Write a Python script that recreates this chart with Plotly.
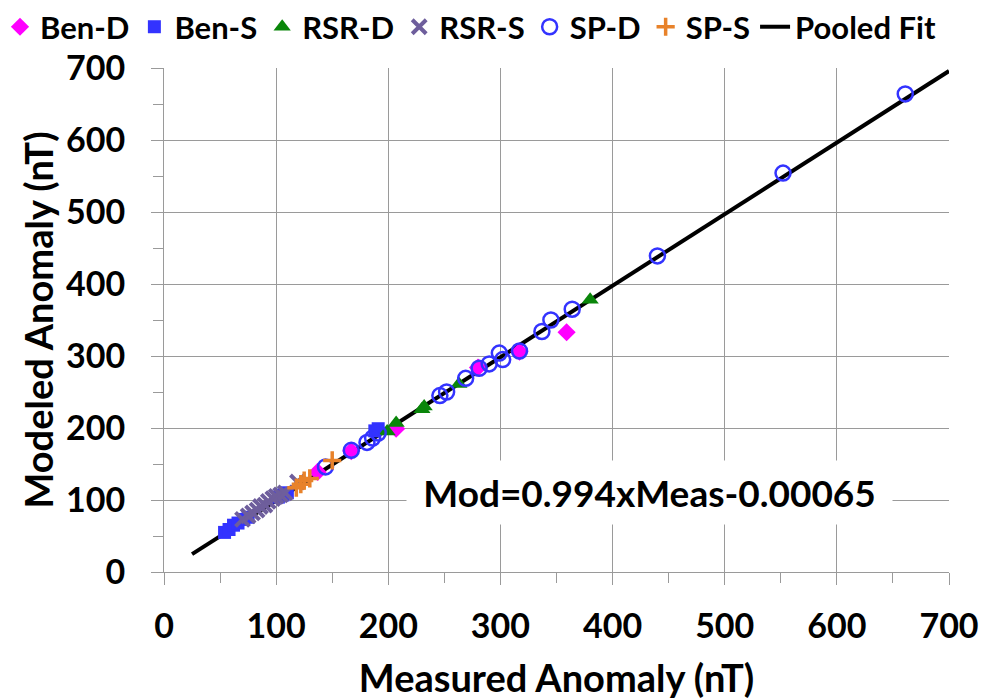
import plotly.graph_objects as go

# ---------------- data ----------------
ben_d_meas = [137, 167, 207, 280, 317, 359]
ben_d_mod = [139, 168, 199, 284, 306, 333]

ben_s_meas = [54, 58, 62, 66, 71, 75, 102, 106, 110, 188, 191]
ben_s_mod = [55, 59, 65, 68, 73, 76, 104, 107, 110, 196, 199]

rsr_d_meas = [199, 207, 230, 232, 263, 380]
rsr_d_mod = [195, 207, 226, 230, 261, 378]

rsr_s_meas = [70, 75, 79, 83, 86, 90, 93, 97, 100, 104, 108, 119]
rsr_s_mod = [73, 78, 82, 86, 91, 93, 98, 102, 105, 107, 110, 125]

sp_d_meas = [144, 167, 181, 186, 191, 246, 252, 269, 281, 290, 299, 302, 317, 337, 345, 364, 440, 552, 661]
sp_d_mod = [146, 169, 180, 186, 193, 245, 250, 269, 283, 289, 304, 295, 307, 334, 350, 365, 439, 554, 664]

sp_s_meas = [118, 122, 125, 130, 150]
sp_s_mod = [117, 122, 127, 130, 155]

fit_meas = [25, 700]
fit_mod = [24.8, 695.8]

x_ticks = [0, 100, 200, 300, 400, 500, 600, 700]
y_ticks = [0, 100, 200, 300, 400, 500, 600, 700]

equation_text = "Mod=0.994xMeas-0.00065"

# ---------------- figure ----------------
FONT = "Lato"
BLUE = "#3333ff"
MAGENTA = "#ff00ff"
GREEN = "#0a860a"
PURPLE = "#6e5e9c"
ORANGE = "#e8822a"
GRID = "#9a9a9a"

fig = go.Figure()

fig.add_trace(go.Scatter(
    x=fit_meas, y=fit_mod, mode="lines", name="Pooled Fit",
    line=dict(color="black", width=4), legendrank=7))

fig.add_trace(go.Scatter(
    x=ben_d_meas, y=ben_d_mod, mode="markers", name="Ben-D",
    marker=dict(symbol="diamond", size=14, color=MAGENTA, line=dict(width=0)),
    legendrank=1))
fig.add_trace(go.Scatter(
    x=ben_s_meas, y=ben_s_mod, mode="markers", name="Ben-S",
    marker=dict(symbol="square", size=13, color=BLUE, line=dict(width=0)),
    legendrank=2))
fig.add_trace(go.Scatter(
    x=rsr_d_meas, y=rsr_d_mod, mode="markers", name="RSR-D",
    marker=dict(symbol="triangle-up", size=15, color=GREEN, line=dict(width=0)),
    legendrank=3))
fig.add_trace(go.Scatter(
    x=rsr_s_meas, y=rsr_s_mod, mode="markers", name="RSR-S",
    marker=dict(symbol="x-thin", size=14, color=PURPLE, line=dict(width=4, color=PURPLE)),
    legendrank=4))
fig.add_trace(go.Scatter(
    x=sp_d_meas, y=sp_d_mod, mode="markers", name="SP-D",
    marker=dict(symbol="circle-open", size=15, color=BLUE, line=dict(width=2.5, color=BLUE)),
    legendrank=5))
fig.add_trace(go.Scatter(
    x=sp_s_meas, y=sp_s_mod, mode="markers", name="SP-S",
    marker=dict(symbol="cross-thin", size=13, color=ORANGE, line=dict(width=3.5, color=ORANGE)),
    legendrank=6))

fig.add_annotation(
    x=432.6, y=110.7, xref="x", yref="y", text=equation_text, showarrow=False,
    xanchor="center", yanchor="middle", bgcolor="white", width=483, height=61,
    font=dict(family=FONT, size=37, color="black", weight="bold"))

axis_common = dict(
    range=[0, 700], dtick=100, tick0=0,
    showgrid=True, gridcolor=GRID, gridwidth=1,
    showline=True, linecolor=GRID, linewidth=1,
    ticks="outside", ticklen=12, tickcolor=GRID, tickwidth=1,
    minor=dict(dtick=50, ticks="outside", ticklen=10, tickcolor=GRID, showgrid=False),
    tickfont=dict(family=FONT, size=34, color="black", weight="bold"),
    zeroline=False, fixedrange=True,
)

fig.update_layout(
    width=1000, height=700,
    margin=dict(l=164, r=51, t=68, b=128, autoexpand=False),
    paper_bgcolor="white", plot_bgcolor="white",
    xaxis=dict(axis_common, tickvals=x_ticks,
               title=dict(text="Measured Anomaly (nT)", standoff=26,
                          font=dict(family=FONT, size=38, color="black", weight="bold")),
               ticklabelstandoff=12),
    yaxis=dict(axis_common, tickvals=y_ticks,
               title=dict(text="Modeled Anomaly (nT)", standoff=0,
                          font=dict(family=FONT, size=38, color="black", weight="bold")),
               ticklabelstandoff=19),
    legend=dict(orientation="h", xref="paper", yref="paper",
                x=-164 / 785, xanchor="left", y=1 + (68 - 27) / 505, yanchor="middle",
                font=dict(family=FONT, size=31, color="black", weight="bold"),
                bgcolor="rgba(0,0,0,0)", itemwidth=30, tracegroupgap=0,
                borderwidth=0),
    showlegend=True,
)

fig.write_html("out.html")
